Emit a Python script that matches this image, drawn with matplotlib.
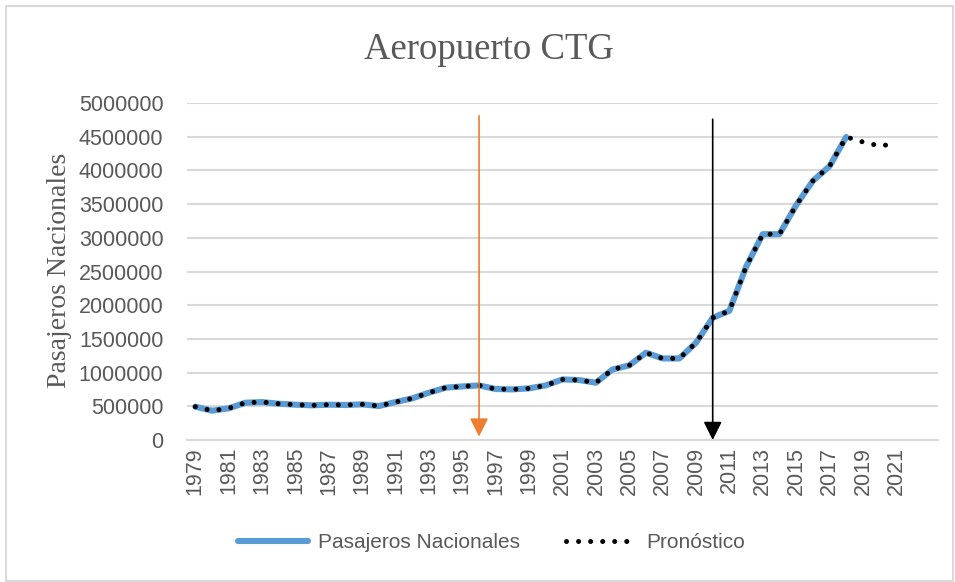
import numpy as np
import matplotlib
matplotlib.use("Agg")
import matplotlib.pyplot as plt
from matplotlib.patches import Rectangle

# Años del eje (categorías)
years = list(range(1979, 2024))

# Pasajeros nacionales observados, 1979-2018
pasajeros = [494000, 435000, 470000, 553000, 563000, 538000, 524000, 514000,
             524000, 519000, 529000, 504000, 563000, 618000, 702000, 776000,
             795000, 810000, 756000, 751000, 766000, 810000, 899000, 889000,
             850000, 1047000, 1107000, 1295000, 1210000, 1210000, 1443000,
             1813000, 1917000, 2569000, 3054000, 3054000, 3483000, 3844000,
             4062000, 4496000]

# Pronóstico 2019-2021 (la serie punteada repite los datos observados)
pronostico_extra = [4422000, 4363000, 4397000]
pronostico = pasajeros + pronostico_extra

# Flechas de anotación (año, y inicio, y fin)
arrow_orange = (1996, 4810000, 50000)
arrow_black = (2010, 4760000, 0)

blue = "#5B9BD5"
grid_col = "#D9D9D9"
text_col = "#595959"

fig = plt.figure(figsize=(9.55, 5.82), dpi=100)
ax = fig.add_axes([187 / 955, 1 - 440 / 582, (938 - 187) / 955, (440 - 103) / 582])

idx = {y: i for i, y in enumerate(years)}
x_obs = np.arange(len(pasajeros))
x_pro = np.arange(len(pronostico))

ax.plot(x_obs, pasajeros, color=blue, lw=4.4, solid_capstyle="round",
        solid_joinstyle="round", label="Pasajeros Nacionales", zorder=3)
ax.plot(x_pro, pronostico, color="black", lw=3.6, linestyle=(0, (0.01, 2.4)),
        dash_capstyle="round", label="Pronóstico", zorder=4)

# flechas
for (yr, y0, y1), col in [(arrow_orange, "#ED7D31"), (arrow_black, "black")]:
    ax.annotate("", xy=(idx[yr], y1), xytext=(idx[yr], y0),
                arrowprops=dict(arrowstyle="-|>", color=col, lw=1.2,
                                mutation_scale=28, shrinkA=0, shrinkB=0),
                zorder=5)

ax.set_xlim(-0.5, len(years) - 0.5)
ax.set_ylim(0, 5000000)
ax.set_yticks(np.arange(0, 5000001, 500000))
ax.set_yticklabels([str(v) for v in range(0, 5000001, 500000)])
ax.set_xticks(x_pro[::2])
ax.set_xticklabels([str(years[i]) for i in x_pro[::2]], rotation=90)

ax.grid(axis="y", color=grid_col, lw=1.5)
ax.set_axisbelow(True)
for s in ["top", "right", "left"]:
    ax.spines[s].set_visible(False)
ax.spines["bottom"].set_color(grid_col)
ax.spines["bottom"].set_linewidth(1.5)
ax.tick_params(axis="both", length=0, colors=text_col, labelsize=15.5, pad=5)
ax.tick_params(axis="y", pad=17)
for lab in ax.get_xticklabels() + ax.get_yticklabels():
    lab.set_family("Liberation Sans")

fig.text(489 / 955, 1 - 50 / 582, "Aeropuerto CTG", ha="center", va="center",
         family="Liberation Serif", fontsize=26.5, color=text_col)
fig.text(60 / 955, 1 - 270 / 582, "Pasajeros Nacionales", ha="center", va="center",
         rotation=90, family="Liberation Serif", fontsize=20, color=text_col)

leg = fig.legend(loc="center", bbox_to_anchor=(491 / 955, 1 - 543 / 582), ncol=2,
                 frameon=False, handlelength=3.4, handletextpad=0.45,
                 columnspacing=2.2,
                 prop={"family": "Liberation Sans", "size": 15})
for t in leg.get_texts():
    t.set_color(text_col)

fig.patches.append(Rectangle((6 / 955, 1 / 582), 947 / 955, 575 / 582,
                             transform=fig.transFigure, fill=False,
                             edgecolor=grid_col, lw=1.5))

fig.savefig("out.png", dpi=100)
